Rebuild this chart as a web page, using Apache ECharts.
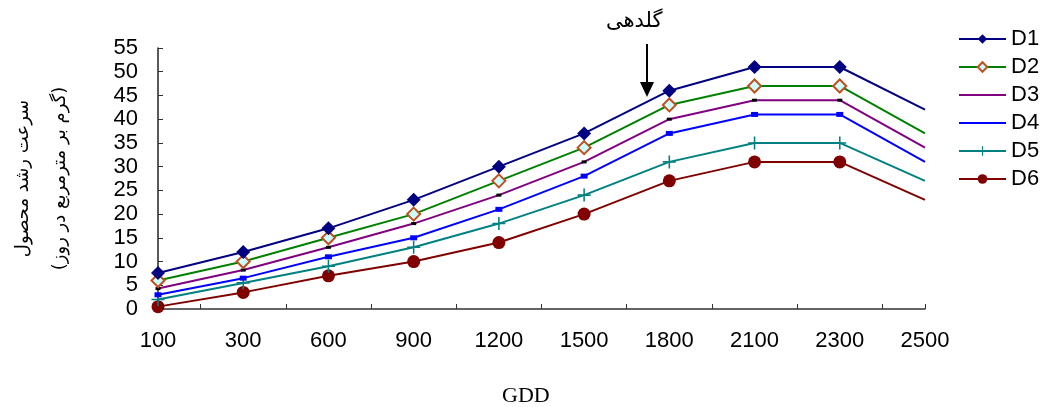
<!DOCTYPE html>
<html><head><meta charset="utf-8">
<script src="https://cdn.jsdelivr.net/npm/echarts@6/dist/echarts.min.js"></script>
<style>html,body{margin:0;padding:0;background:#fff}#c{width:1044px;height:407px}</style>
</head><body><div id="c"></div>
<script>
const categories = ['100','300','600','900','1200','1500','1800','2100','2300','2500'];
const D1 = [7.6, 12, 17, 23, 30, 37, 46, 51, 51, 42];
const D2 = [6, 10, 15, 20, 27, 34, 43, 47, 47, 37];
const D3 = [4.3, 8.2, 13, 18, 24, 31, 40, 44, 44, 34];
const D4 = [3, 6.5, 11, 15, 21, 28, 37, 41, 41, 31];
const D5 = [2, 5.5, 9, 13, 18, 24, 31, 35, 35, 27];
const D6 = [0.5, 3.5, 7, 10, 14, 20, 27, 31, 31, 23];
const seriesNames = ['D1','D2','D3','D4','D5','D6'];
const yTitle = 'سرعت رشد محصول\n\u202B(گرم بر مترمربع در روز)\u202C';
const xTitle = 'GDD';
const annotation = 'گلدهی';

const plus = 'path://M-0.12,-1 L0.12,-1 L0.12,-0.12 L1,-0.12 L1,0.12 L0.12,0.12 L0.12,1 L-0.12,1 L-0.12,0.12 L-1,0.12 L-1,-0.12 L-0.12,-0.12 Z';
const lineIcon = 'path://M0,0L0.01,0L0.01,0.01Z M0,12L0.01,12L0.01,11.99Z M0,5L47,5L47,7L0,7Z';
const styles = [
  {color:'#000080', symbol:'diamond', size:14, fill:'#000080', border:'#000080', bw:0},
  {color:'#008000', symbol:'diamond', size:13, fill:'#CCFFFF', border:'#C0501F', bw:2},
  {color:'#800080', symbol:'rect', size:[5,3], fill:'#000000', border:'#000000', bw:0},
  {color:'#0000FF', symbol:'rect', size:[7,5], fill:'#0000FF', border:'#0000FF', bw:0},
  {color:'#008080', symbol:plus, size:13, fill:'#008080', border:'#008080', bw:0},
  {color:'#800000', symbol:'circle', size:13, fill:'#800000', border:'#800000', bw:0}
];
const values = [D1,D2,D3,D4,D5,D6];
const series = values.map((arr, k) => {
  const s = styles[k];
  return {
    name: seriesNames[k], type:'line', xAxisIndex:0,
    data: arr.map((v,i) => i === arr.length-1 ? {value:v, symbol:'none'} : v),
    symbol: s.symbol, symbolSize: s.size, showAllSymbol:true,
    lineStyle:{color:s.color, width:2},
    itemStyle:{color:s.fill, borderColor:s.border, borderWidth:s.bw},
    z: 10-k, animation:false
  };
});
const tickCats = Array.from({length: categories.length*2-1}, (_,i)=>String(i));
const legendData = seriesNames.map((n,k) => (k===2 || k===3) ? {name:n, icon:lineIcon, itemStyle:{color:styles[k].color}} : {name:n});

const chart = echarts.init(document.getElementById('c'));
chart.setOption({
  animation:false,
  grid:{left:158, right:119, top:48, bottom:98, outerBoundsMode:'none'},
  legend:{
    orient:'vertical', left:953, top:23, itemGap:6, itemWidth:47, itemHeight:12,
    textStyle:{fontFamily:'Liberation Sans, Arial', fontSize:22, color:'#000'},
    data: legendData
  },
  xAxis:[{
    type:'category', data:categories, boundaryGap:false,
    axisLine:{lineStyle:{color:'#333', width:1.5}},
    axisTick:{show:false},
    axisLabel:{color:'#000', fontFamily:'Liberation Sans, Arial', fontSize:22, margin:21, interval:0},
    splitLine:{show:false}
  },{
    type:'category', data:tickCats, boundaryGap:false, position:'bottom',
    axisLine:{show:false}, axisLabel:{show:false},
    axisTick:{show:true, inside:true, length:5, interval:(i)=> i%2===1 || i===tickCats.length-1, lineStyle:{color:'#333', width:1}},
    splitLine:{show:false}
  }],
  yAxis:{
    type:'value', min:0, max:55, interval:5,
    axisLine:{show:true, lineStyle:{color:'#222', width:1.5}},
    axisTick:{show:true, inside:true, length:5, lineStyle:{color:'#333'}},
    axisLabel:{color:'#000', fontFamily:'Liberation Sans, Arial', fontSize:22, margin:20},
    splitLine:{show:false},
    name: yTitle, nameLocation:'middle', nameRotate:90, nameGap:79,
    nameTextStyle:{fontFamily:'DejaVu Sans', fontSize:18, lineHeight:37, color:'#000'}
  },
  graphic:[
    {type:'text', left:502, top:385, style:{text:xTitle, font:'22px "Liberation Serif", serif', fill:'#000'}},
    {type:'text', left:606, top:11, style:{text:annotation, font:'21px "DejaVu Sans"', fill:'#000'}},
    {type:'line', shape:{x1:647, y1:44, x2:647, y2:84}, style:{stroke:'#000', lineWidth:2}},
    {type:'polygon', shape:{points:[[640,82],[654,82],[647,97]]}, style:{fill:'#000'}}
  ],
  series: series
});
</script></body></html>
